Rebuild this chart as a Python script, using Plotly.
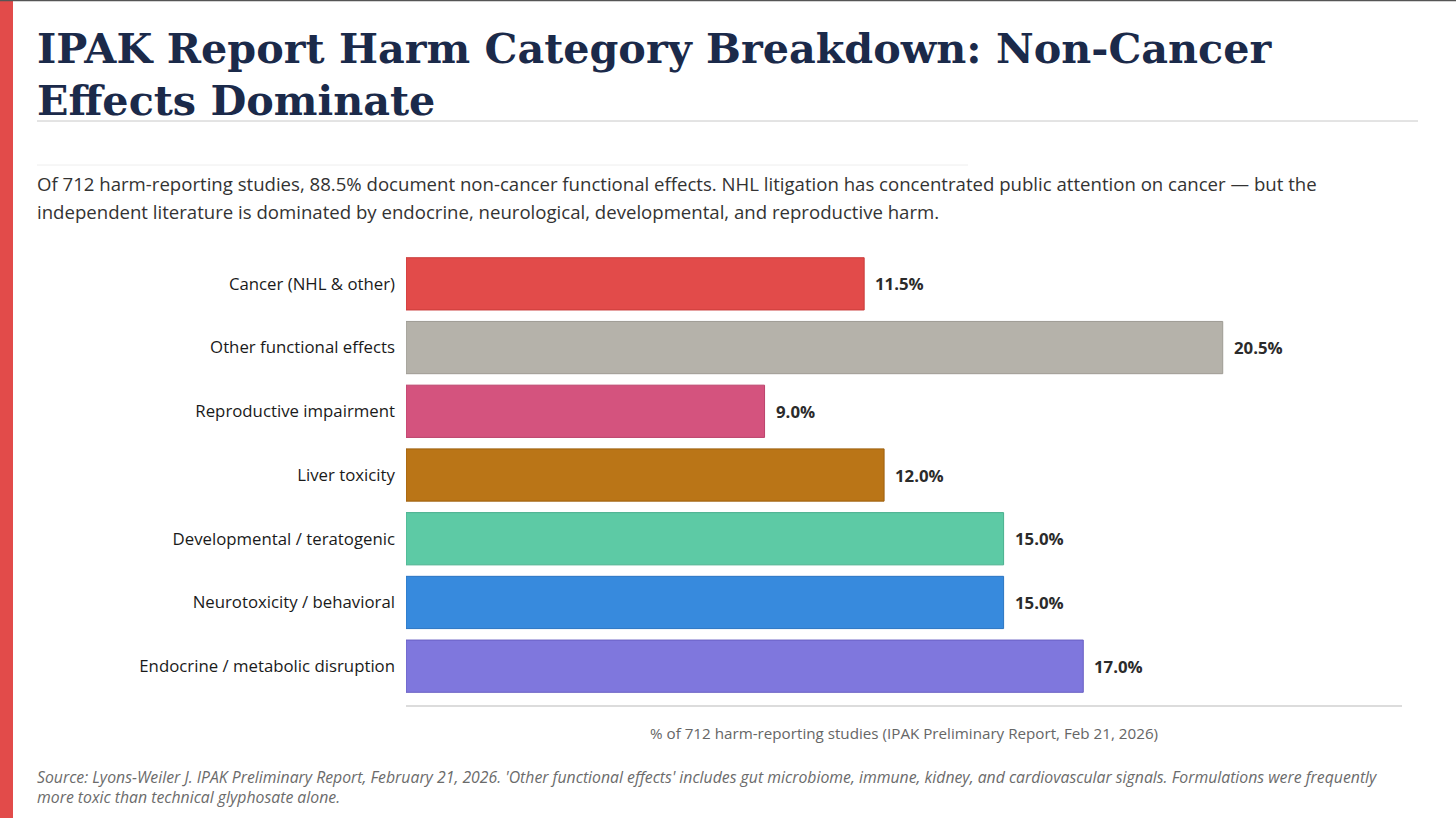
import plotly.graph_objects as go

# data
categories = ["Cancer (NHL & other)", "Other functional effects", "Reproductive impairment",
              "Liver toxicity", "Developmental / teratogenic", "Neurotoxicity / behavioral",
              "Endocrine / metabolic disruption"]
shares = [11.5, 20.5, 9.0, 12.0, 15.0, 15.0, 17.0]
bar_colors = ["#E24B4A", "#B5B2AA", "#D4537E", "#BA7517", "#5DCAA5", "#378ADD", "#7F77DD"]
edge_colors = ["#C93B3A", "#9E9B93", "#BB426B", "#9E600F", "#48B08E", "#2A74C2", "#6860C4"]

W, H = 1456, 818
L, R, T, B = 406, 1402, 252, 706
SANS = "Open Sans, Lato, sans-serif"


# pixel -> paper helpers
def px(x):
    return (x - L) / (R - L)


def py(y):
    return (B - y) / (B - T)


fig = go.Figure()

fig.add_trace(go.Bar(
    x=shares, y=categories, orientation="h",
    marker=dict(color=bar_colors, line=dict(color=edge_colors, width=1)),
    width=0.82,
    hoverinfo="skip",
    showlegend=False,
))

title_font = dict(family="DejaVu Serif, Georgia, serif", size=41.3, color="#1B2A4A")
body_font = dict(family=SANS, size=18.6, color="#333333")
foot_font = dict(family=SANS, size=15.8, color="#6b6b6b")

annotations = [
    dict(text="<b>IPAK Report Harm Category Breakdown: Non-Cancer</b>", x=px(35), y=py(48),
         font=title_font),
    dict(text="<b>Effects Dominate</b>", x=px(35), y=py(100), font=title_font),
    dict(text="Of 712 harm-reporting studies, 88.5% document non-cancer functional effects. "
              "NHL litigation has concentrated public attention on cancer \u2014 but the",
         x=px(35), y=py(184), font=body_font),
    dict(text="independent literature is dominated by endocrine, neurological, developmental, "
              "and reproductive harm.",
         x=px(35), y=py(211), font=body_font),
    dict(text="% of 712 harm-reporting studies (IPAK Preliminary Report, Feb 21, 2026)",
         x=0.5, y=py(733), xanchor="center",
         font=dict(family=SANS, size=15.2, color="#666666")),
    dict(text="<i>Source: Lyons-Weiler J. IPAK Preliminary Report, February 21, 2026. 'Other functional "
              "effects' includes gut microbiome, immune, kidney, and cardiovascular signals. "
              "Formulations were frequently</i>",
         x=px(35), y=py(777), font=foot_font),
    dict(text="<i>more toxic than technical glyphosate alone.</i>",
         x=px(35), y=py(797), font=foot_font),
]
for a in annotations:
    a.setdefault("xanchor", "left")
    a.update(xref="paper", yref="paper", yanchor="middle", showarrow=False)

# value labels next to the bar ends
for cat, v in zip(categories, shares):
    annotations.append(dict(
        x=v, y=cat, xref="x", yref="y", text=f"<b>{v:.1f}%</b>", showarrow=False,
        xanchor="left", yanchor="middle", xshift=9,
        font=dict(family=SANS, size=16.8, color="#2b2b2b"),
    ))

shapes = [
    dict(type="rect", xref="paper", yref="paper", x0=px(0), x1=px(13), y0=py(0), y1=py(H),
         fillcolor="#E24B4A", line=dict(width=0), layer="above"),
    dict(type="line", xref="paper", yref="paper", x0=px(0), x1=px(W), y0=py(0.5), y1=py(0.5),
         line=dict(color="#555555", width=1.5)),
    dict(type="line", xref="paper", yref="paper", x0=px(37), x1=px(1418), y0=py(121), y1=py(121),
         line=dict(color="#c8c8c8", width=1)),
    dict(type="line", xref="paper", yref="paper", x0=px(37), x1=px(968), y0=py(165), y1=py(165),
         line=dict(color="#eeeeee", width=1)),
    dict(type="line", xref="paper", yref="paper", x0=0, x1=1, y0=0, y1=0,
         line=dict(color="#d0d0d0", width=1.5)),
]

fig.update_layout(
    width=W, height=H,
    margin=dict(l=L, r=W - R, t=T, b=H - B, pad=0),
    paper_bgcolor="white", plot_bgcolor="white",
    annotations=annotations, shapes=shapes,
    xaxis=dict(range=[0, 25], showgrid=False, zeroline=False, showticklabels=False,
               showline=False, fixedrange=True),
    yaxis=dict(categoryorder="array", categoryarray=categories, range=[6.625, -0.5],
               showgrid=False, zeroline=False, showline=False, ticks="", ticklabelstandoff=10,
               tickfont=dict(family=SANS, size=16.8, color="#1a1a1a"),
               fixedrange=True),
)

fig.write_html("out.html", config={"displayModeBar": False},
               post_script="document.body.style.margin='0';")
